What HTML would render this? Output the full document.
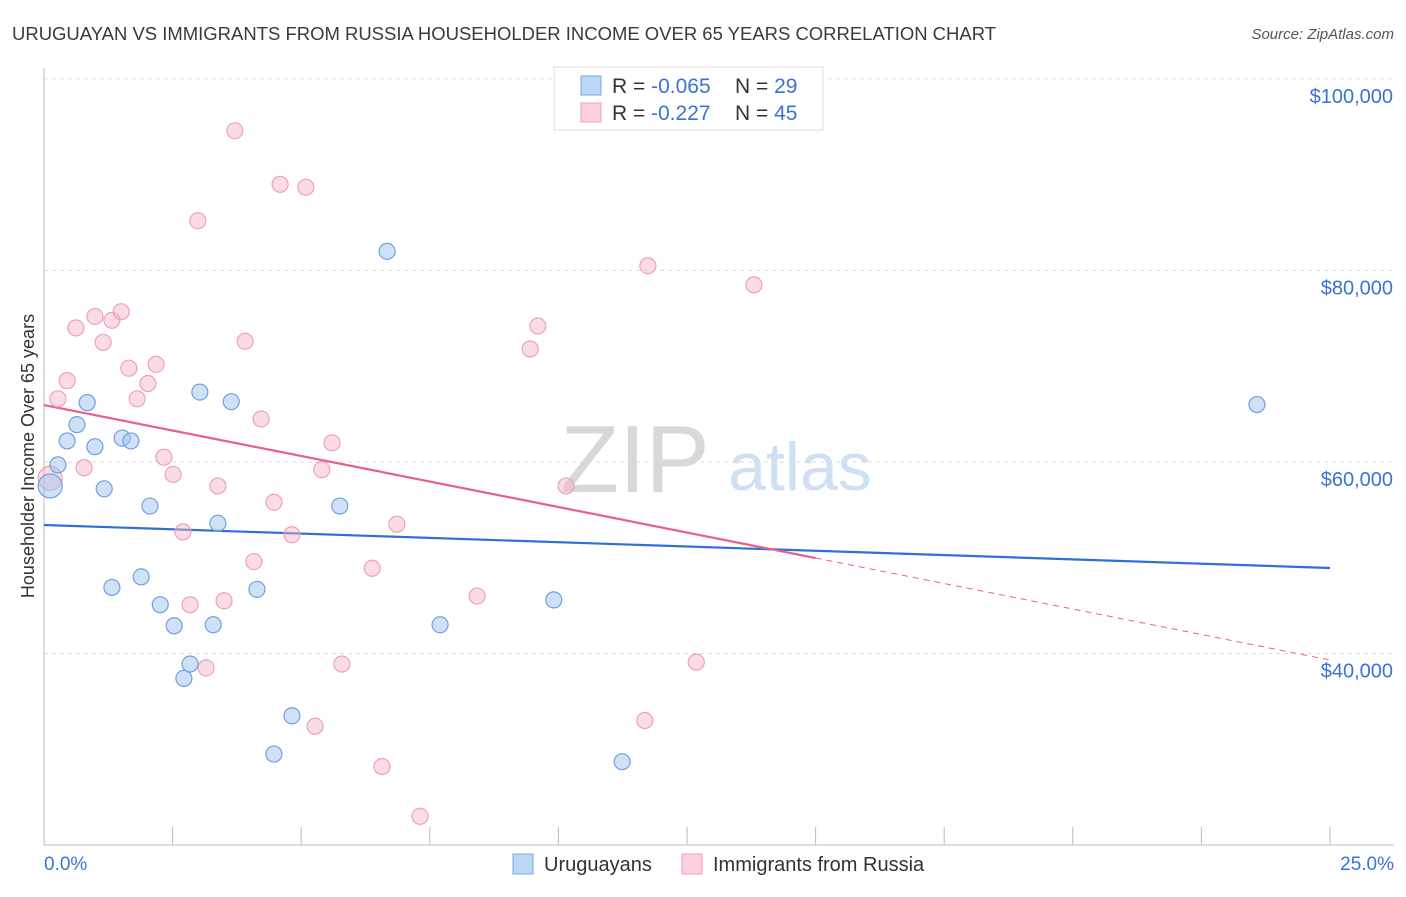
<!DOCTYPE html>
<html><head><meta charset="utf-8"><style>
body{margin:0;background:#fff;font-family:"Liberation Sans",sans-serif;}
svg text{font-family:"Liberation Sans",sans-serif;}
</style></head><body>
<svg id="chart" width="1406" height="892">
<text x="12" y="40" font-size="18" fill="#3a3a3a" textLength="984" lengthAdjust="spacingAndGlyphs">URUGUAYAN VS IMMIGRANTS FROM RUSSIA HOUSEHOLDER INCOME OVER 65 YEARS CORRELATION CHART</text>
<text x="1394" y="39" font-size="15" fill="#555" font-style="italic" text-anchor="end">Source: ZipAtlas.com</text>
<g>
<text x="635" y="492" font-size="96" fill="#d8d8d8" font-family="Liberation Serif" text-anchor="middle">ZIP</text>
<text x="800" y="490" font-size="68" fill="#cfe0f3" text-anchor="middle">atlas</text>
</g>
<g id="grid"></g>
<g id="axes"></g>
<g id="trend"></g>
<g id="points"></g>
<text transform="translate(34,456) rotate(-90)" font-size="18" fill="#333" text-anchor="middle">Householder Income Over 65 years</text>
<text x="44" y="870" font-size="19" fill="#3b73d1">0.0%</text>
<text x="1394" y="870" font-size="19" fill="#3b73d1" text-anchor="end">25.0%</text>
<g>
<rect x="554" y="67" width="269" height="63" fill="#fff" stroke="#ddd"/>
<rect x="581" y="76" width="20" height="19" fill="#bcd6f6" stroke="#7aa8e4"/>
<rect x="581" y="103" width="20" height="19" fill="#fcd0dd" stroke="#eea0bb"/>
<text x="612" y="93" font-size="21" fill="#333">R = <tspan fill="#3b73d1">-0.065</tspan><tspan x="735">N = </tspan><tspan fill="#3b73d1">29</tspan></text>
<text x="612" y="120" font-size="21" fill="#333">R = <tspan x="651" fill="#3b73d1">-0.227</tspan><tspan x="735">N = </tspan><tspan fill="#3b73d1">45</tspan></text>
</g>
<g>
<rect x="513" y="854" width="20" height="20" fill="#bcd6f6" stroke="#7aa8e4"/>
<text x="544" y="871" font-size="20" fill="#333">Uruguayans</text>
<rect x="682" y="854" width="20" height="20" fill="#fcd0dd" stroke="#eea0bb"/>
<text x="713" y="871" font-size="20" fill="#333">Immigrants from Russia</text>
</g>
</svg>
<script>
const yTicks=[40000,60000,80000,100000];
const yTickLabels=["$40,000","$60,000","$80,000","$100,000"];
const xTicks=[2.5,5,7.5,10,12.5,15,17.5,20,22.5,25];
const blueX=[0.12,0.27,0.45,0.64,0.84,0.99,1.17,1.32,1.52,1.69,1.89,2.06,2.26,2.53,2.72,2.84,3.03,3.29,3.38,3.64,4.14,4.82,4.47,5.75,6.67,7.70,9.91,11.24,23.58];
const blueY=[57500,59700,62200,63900,66200,61600,57200,46900,62500,62200,48000,55400,45100,42900,37400,38900,67300,43000,53600,66300,46700,33500,29500,55400,82000,43000,45600,28700,66000];
const pinkX=[0.12,0.27,0.45,0.62,0.78,0.99,1.15,1.32,1.50,1.65,1.81,2.02,2.18,2.33,2.51,2.70,2.84,2.99,3.15,3.38,3.50,3.71,3.91,4.08,4.22,4.47,4.59,4.82,5.09,5.27,5.40,5.60,5.79,6.38,6.57,6.86,7.31,8.42,9.45,9.60,10.15,11.68,11.74,12.68,13.80];
const pinkY=[58300,66600,68500,74000,59400,75200,72500,74800,75700,69800,66600,68200,70200,60500,58700,52700,45100,85200,38500,57500,45500,94600,72600,49600,64500,55800,89000,52400,88700,32400,59200,62000,38900,48900,28200,53500,23000,46000,71800,74200,57500,33000,80500,39100,78500];
const blueTrend=[53420,48930];
const pinkTrend=[65950,39320];
const pinkSolidEnd=15;

const NS="http://www.w3.org/2000/svg";
const X=v=>44+v/25*1286;
const Y=v=>845-(v-20000)/80000*766;
function mk(tag,attrs,parent){const e=document.createElementNS(NS,tag);for(const k in attrs)e.setAttribute(k,attrs[k]);parent.appendChild(e);return e;}
const grid=document.getElementById('grid'),axes=document.getElementById('axes'),trend=document.getElementById('trend'),pts=document.getElementById('points');
yTicks.forEach((t,i)=>{
 const l=mk('line',{x1:44,x2:1394,y1:Y(t),y2:Y(t),stroke:'#ddd','stroke-dasharray':'4,4'},grid);
 
 
 const tx=mk('text',{x:1393,y:Y(t)+24,'font-size':20,fill:'#3b73d1','text-anchor':'end'},grid);
 tx.textContent=yTickLabels[i];
 
 
});
const ax=mk('line',{x1:44,x2:1394,y1:845,y2:845,stroke:'#bbb'},axes);


const ay=mk('line',{x1:44,x2:44,y1:68,y2:845,stroke:'#bbb'},axes);


xTicks.forEach(t=>{
 const l=mk('line',{x1:X(t),x2:X(t),y1:827,y2:845,stroke:'#bbb'},axes);
 
 
});
const bt=mk('line',{x1:X(0),x2:X(25),y1:Y(blueTrend[0]),y2:Y(blueTrend[1]),stroke:'#2f6fd6','stroke-width':2.2},trend);


const pAt=x=>pinkTrend[0]+(pinkTrend[1]-pinkTrend[0])*x/25;
const pt=mk('line',{x1:X(0),x2:X(pinkSolidEnd),y1:Y(pinkTrend[0]),y2:Y(pAt(pinkSolidEnd)),stroke:'#e8608a','stroke-width':2.2},trend);


const pd=mk('line',{x1:X(pinkSolidEnd),x2:X(25),y1:Y(pAt(pinkSolidEnd)),y2:Y(pinkTrend[1]),stroke:'#e8608a','stroke-width':1,'stroke-dasharray':'6,5'},trend);


pinkX.forEach((x,i)=>{
 const c=mk('circle',{cx:X(x),cy:Y(pinkY[i]),r:i===0?12:8,fill:'rgba(246,175,199,0.45)',stroke:'#eea0bb','stroke-width':1.2},pts);
 
 
});
blueX.forEach((x,i)=>{
 const c=mk('circle',{cx:X(x),cy:Y(blueY[i]),r:i===0?12:8,fill:'rgba(160,196,240,0.5)',stroke:'#6fa0e0','stroke-width':1.2},pts);
 
 
});
</script>
</body></html>
